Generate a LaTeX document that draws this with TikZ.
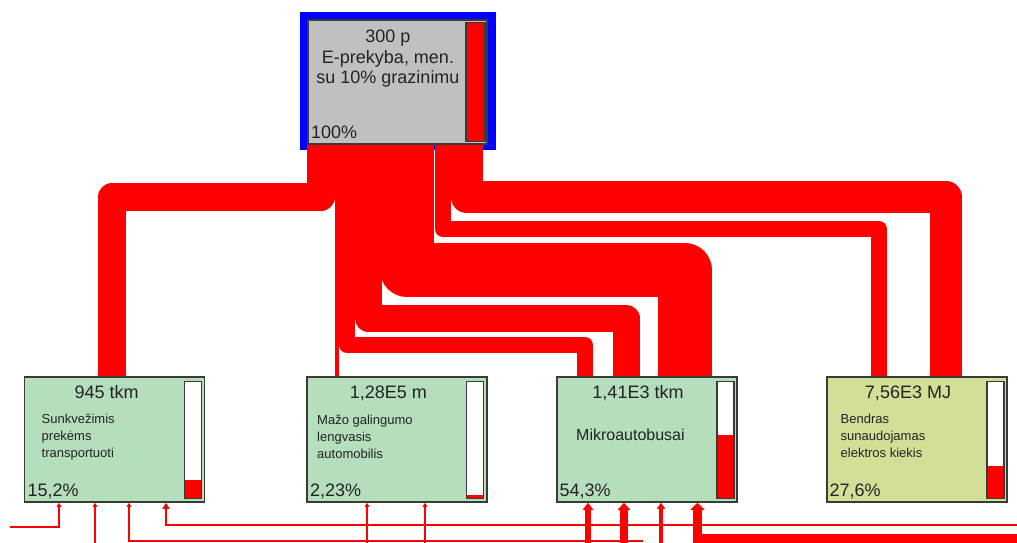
\documentclass[tikz,border=0pt]{standalone}
\usepackage{fontspec}
\setmainfont{Liberation Sans}
\usetikzlibrary{arrows.meta}
\definecolor{nodegreen}{RGB}{180,222,188}
\definecolor{nodeyellow}{RGB}{208,224,150}
\definecolor{topgray}{RGB}{192,192,192}
\definecolor{edgegray}{RGB}{55,60,55}
\definecolor{txtcol}{RGB}{35,35,35}
\definecolor{flowred}{RGB}{255,0,0}
\definecolor{frameblue}{RGB}{0,0,255}
\newcommand{\levelbar}[2]{%
  \filldraw[fill=white,draw=edgegray,line width=1.5pt] (#1,381.5) rectangle ++(17,117);
  \fill[flowred] (#1+0.75,#2) rectangle (#1+16.25,497.75);
}
\tikzset{
  box/.style={draw=edgegray,line width=1.5pt,minimum width=180pt,minimum height=125pt,inner sep=0pt},
  flow/.style={draw=flowred,line join=round,line cap=butt},
  valtext/.style={font=\fontsize{18}{21}\selectfont,text=txtcol,inner sep=0pt,anchor=base},
  pcttext/.style={font=\fontsize{18}{21}\selectfont,text=txtcol,inner sep=0pt,anchor=base west},
  desctext/.style={font=\fontsize{13}{16}\selectfont,text=txtcol,inner sep=0pt,anchor=base west},
  inthin/.style={draw=flowred,line width=1.3pt,-{Triangle[length=4pt,width=4.5pt]}},
  inthick/.style={draw=flowred,line join=miter},
}
\begin{document}
\begin{tikzpicture}[x=1pt,y=-1pt]
\useasboundingbox (0,0) rectangle (1017,542);
\clip (0,0) rectangle (1017,542);
\fill[white] (0,0) rectangle (1017,542);

% top node
\node[fill=frameblue,minimum width=196pt,minimum height=138pt,inner sep=0pt,outer sep=0pt] (topframe) at (398,81) {};
\node[box,fill=topgray,minimum width=179pt,minimum height=124pt] (top) at (397.5,82) {};
\filldraw[fill=flowred,draw=edgegray,line width=1.5pt] (466,22.5) rectangle (485,141.5);
\node[valtext] (t1) at (388,42) {300 p};
\node[valtext] (t2) at (388,63.5) {E-prekyba, men.};
\node[valtext] (t3) at (388,83.5) {su 10\% grazinimu};
\node[pcttext] (t4) at (311,138) {100\%};

% bottom nodes
\node[box,fill=nodegreen] (n1) at (114.5,439.5) {};
\node[box,fill=nodegreen] (n2) at (397,439.5) {};
\node[box,fill=nodegreen] (n3) at (647,439.5) {};
\node[box,fill=nodeyellow] (n4) at (917,439.5) {};
\levelbar{184.5}{480.2}
\levelbar{466.5}{494.8}
\levelbar{717}{435}
\levelbar{987}{465.9}

\node[valtext] (n1v) at (106.7,398.3) {945 tkm};
\node[desctext] (n1d1) at (41.5,423.5) {Sunkvežimis};
\node[desctext] (n1d2) at (41.5,440.5) {prekėms};
\node[desctext] (n1d3) at (41.5,457.5) {transportuoti};
\node[pcttext] (n1p) at (27.5,496.7) {15,2\%};

\node[valtext] (n2v) at (388.3,398.3) {1,28E5 m};
\node[desctext] (n2d1) at (317,424) {Mažo galingumo};
\node[desctext] (n2d2) at (317,441) {lengvasis};
\node[desctext] (n2d3) at (317,458) {automobilis};
\node[pcttext] (n2p) at (310,496.7) {2,23\%};

\node[valtext] (n3v) at (638,398.3) {1,41E3 tkm};
\node[desctext,font=\fontsize{16}{19}\selectfont] (n3d) at (576,440) {Mikroautobusai};
\node[pcttext] (n3p) at (559.5,496.7) {54,3\%};

\node[valtext] (n4v) at (908,398.3) {7,56E3 MJ};
\node[desctext] (n4d1) at (840.5,423.3) {Bendras};
\node[desctext] (n4d2) at (840.5,440) {sunaudojamas};
\node[desctext] (n4d3) at (840.5,457) {elektros kiekis};
\node[pcttext] (n4p) at (829.5,496.7) {27,6\%};

% flows from top node
\draw[flow,line width=28pt] (321,0 |- top.south) |- (112,197) -- (112,0 |- n1.north);
\draw[flow,line width=3.5pt] (337,0 |- top.south) -- (337,0 |- n2.north);
\draw[flow,line width=16pt] (347,0 |- top.south) |- (585,345) -- (585,0 |- n3.north);
\draw[flow,line width=27pt] (368,0 |- top.south) |- (626,318) -- (626,0 |- n3.north);
\draw[flow,line width=54pt] (407,0 |- top.south) |- (685,270) -- (685,0 |- n3.north);
\draw[flow,line width=16pt] (443,0 |- top.south) |- (879,229) -- (879,0 |- n4.north);
\draw[flow,line width=32pt] (466.5,0 |- top.south) |- (946,197) -- (946,0 |- n4.north);

% inputs from below
\coordinate (a1s) at (10,527);
\coordinate (a2s) at (95,545);
\coordinate (a3s) at (643,541);
\coordinate (a4s) at (1020,525);
\draw[inthin] (a1s) -| (59,0 |- n1.south);
\draw[inthin] (a2s) -- (95,0 |- n1.south);
\draw[inthin] (a3s) -| (129,0 |- n1.south);
\draw[inthick,line width=2.6pt,-{Triangle[length=6pt,width=7pt]}] (a4s) -| (166,0 |- n1.south);
\draw[inthin] (367,545) -- (367,0 |- n2.south);
\draw[inthin] (425,545) -- (425,0 |- n2.south);
\draw[inthick,line width=6pt,-{Triangle[length=7pt,width=10pt]}] (588,545) -- (588,0 |- n3.south);
\draw[inthick,line width=8pt,-{Triangle[length=7pt,width=12pt]}] (624,545) -- (624,0 |- n3.south);
\draw[inthick,line width=4.5pt,-{Triangle[length=6pt,width=8pt]}] (661,545) -- (661,0 |- n3.south);
\draw[inthick,line width=9.5pt,-{Triangle[length=7pt,width=14pt]}] (1020,539) -| (697.5,0 |- n3.south);
\end{tikzpicture}
\end{document}
